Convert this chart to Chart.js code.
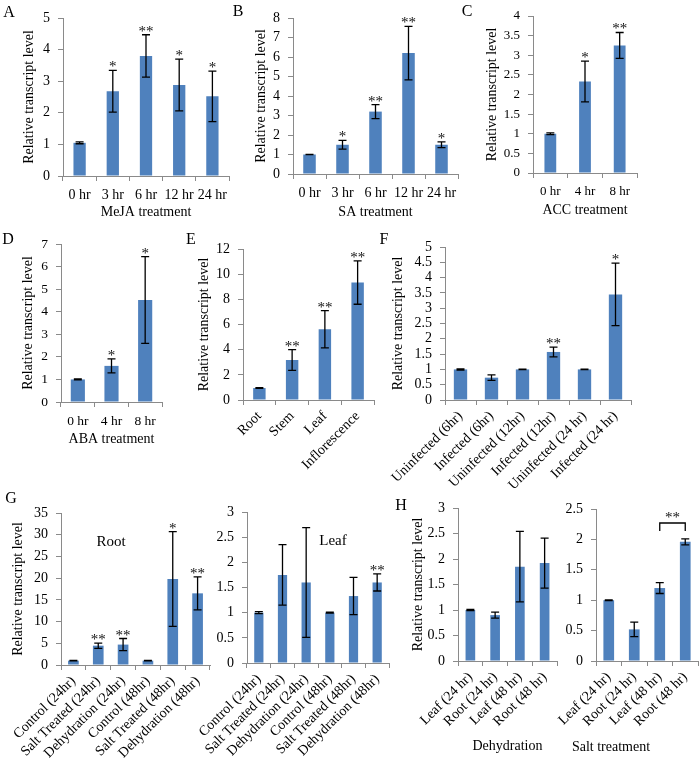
<!DOCTYPE html>
<html>
<head>
<meta charset="utf-8">
<script src="https://cdn.jsdelivr.net/npm/chart.js@4/dist/chart.umd.min.js"></script>
<style>
  html, body { margin: 0; padding: 0; background: #fff; }
  body { width: 700px; height: 764px; position: relative; overflow: hidden; }
  canvas { position: absolute; }
</style>
</head>
<body>
<script>
// ---------------- DATA ----------------
const hrLabels5 = ['0 hr', '3 hr', '6 hr', '12 hr', '24 hr'];
const hrLabels3 = ['0 hr', '4 hr', '8 hr'];

const mejaValues = [1.05, 2.68, 3.8, 2.88, 2.52];
const mejaErrors = [0.03, 0.66, 0.67, 0.82, 0.8];
const mejaStars  = ['', '*', '**', '*', '*'];

const saValues = [1.0, 1.5, 3.2, 6.2, 1.5];
const saErrors = [0.0, 0.22, 0.36, 1.37, 0.15];
const saStars  = ['', '*', '**', '**', '*'];

const accValues = [1.0, 2.33, 3.25];
const accErrors = [0.02, 0.52, 0.33];
const accStars  = ['', '*', '**'];

const abaValues = [1.0, 1.6, 4.52];
const abaErrors = [0.02, 0.31, 1.92];
const abaStars  = ['', '*', '*'];

const tissueLabels = ['Root', 'Stem', 'Leaf', 'Inflorescence'];
const tissueValues = [0.95, 3.18, 5.62, 9.33];
const tissueErrors = [0.03, 0.83, 1.48, 1.72];
const tissueStars  = ['', '**', '**', '**'];

const infLabels = ['Uninfected (6hr)', 'Infected (6hr)', 'Uninfected (12hr)', 'Infected (12hr)', 'Uninfected (24 hr)', 'Infected (24 hr)'];
const infValues = [1.0, 0.73, 1.0, 1.57, 1.0, 3.45];
const infErrors = [0.02, 0.09, 0.01, 0.16, 0.01, 1.02];
const infStars  = ['', '', '', '**', '', '*'];

const stressLabels = ['Control (24hr)', 'Salt Treated (24hr)', 'Dehydration (24hr)', 'Control (48hr)', 'Salt Treated (48hr)', 'Dehydration (48hr)'];
const rootValues = [1.0, 4.45, 4.7, 1.0, 19.8, 16.5];
const rootErrors = [0.05, 0.6, 1.4, 0.05, 10.9, 3.8];
const rootStars  = ['', '**', '**', '', '*', '**'];
const leafValues = [1.0, 1.75, 1.6, 1.0, 1.33, 1.6];
const leafErrors = [0.02, 0.6, 1.09, 0.01, 0.37, 0.17];
const leafStars  = ['', '', '', '', '', '**'];

const tissueTimeLabels = ['Leaf (24 hr)', 'Root (24 hr)', 'Leaf (48 hr)', 'Root (48 hr)'];
const dehydValues = [1.0, 0.9, 1.85, 1.92];
const dehydErrors = [0.01, 0.06, 0.69, 0.49];
const dehydStars  = ['', '', '', ''];
const saltValues = [1.0, 0.52, 1.2, 1.96];
const saltErrors = [0.005, 0.12, 0.09, 0.05];
const saltStars  = ['', '', '', ''];

const yTitle = 'Relative transcript level';

// ---------------- DRAWING ----------------
const FONT = '"Liberation Serif", "Times New Roman", serif';
const BAR = '#4F81BD';
const AXIS = '#8a8a8a';

const extras = {
  id: 'extras',
  afterDatasetsDraw(chart, args, o) {
    const ctx = chart.ctx;
    const meta = chart.getDatasetMeta(0);
    const ys = chart.scales.y;
    const vals = chart.data.datasets[0].data;
    ctx.save();
    ctx.strokeStyle = '#000';
    ctx.lineWidth = 1.3;
    ctx.fillStyle = '#111';
    ctx.textAlign = 'center';
    ctx.textBaseline = 'alphabetic';
    ctx.font = '15px ' + FONT;
    meta.data.forEach((bar, i) => {
      const x = bar.x, v = vals[i], e = o.errors[i];
      const yt = ys.getPixelForValue(v + e), yb = ys.getPixelForValue(v - e);
      ctx.beginPath();
      ctx.moveTo(x, yt); ctx.lineTo(x, yb);
      ctx.moveTo(x - 4, yt); ctx.lineTo(x + 4, yt);
      ctx.moveTo(x - 4, yb); ctx.lineTo(x + 4, yb);
      ctx.stroke();
      if (o.stars[i]) ctx.fillText(o.stars[i], x, yt + 1);
    });
    if (o.bracket) {
      const b = o.bracket;
      const x1 = meta.data[b.from].x, x2 = meta.data[b.to].x;
      const yTop = ys.getPixelForValue(b.value), yLow = ys.getPixelForValue(b.value - b.drop);
      ctx.beginPath();
      ctx.moveTo(x1, yLow); ctx.lineTo(x1, yTop); ctx.lineTo(x2, yTop); ctx.lineTo(x2, yLow);
      ctx.stroke();
      ctx.fillText(b.label, (x1 + x2) / 2, yTop - 1);
    }
    const [bx, by] = o.box;
    ctx.fillStyle = '#000';
    ctx.textBaseline = 'middle';
    (o.texts || []).forEach(t => {
      ctx.font = t.size + 'px ' + FONT;
      ctx.textAlign = t.align || 'center';
      ctx.fillText(t.text, t.x - bx, t.y - by);
    });
    ctx.restore();
  }
};

function makePanel(p) {
  const [bx, by, bw, bh] = p.box;
  const [pl, pt, pr, pb] = p.plot;
  const c = document.createElement('canvas');
  c.width = bw; c.height = bh;
  c.style.left = bx + 'px'; c.style.top = by + 'px';
  document.body.appendChild(c);
  const ts = 14, lh = ts * 1.2;
  const tickFont = { family: FONT, size: p.tick || 13 };
  new Chart(c, {
    type: 'bar',
    data: {
      labels: p.labels,
      datasets: [{ data: p.values, backgroundColor: BAR, borderWidth: 0,
                   barPercentage: p.barPct, categoryPercentage: 1 }]
    },
    options: {
      responsive: false, animation: false, devicePixelRatio: 1,
      layout: { padding: { left: 0, top: pt - by, right: bx + bw - pr, bottom: 0 } },
      plugins: {
        legend: { display: false }, tooltip: { enabled: false },
        extras: { errors: p.errors, stars: p.stars, texts: p.texts, box: p.box, bracket: p.bracket }
      },
      scales: {
        x: {
          grid: { display: true, drawOnChartArea: false, drawTicks: true, tickLength: 5, offset: true, color: AXIS },
          border: { display: true, color: AXIS, width: 1 },
          ticks: { font: tickFont, color: '#000', minRotation: p.rot || 0, maxRotation: p.rot || 0,
                   autoSkip: false, padding: p.rot ? 3 : 6 },
          title: p.xTitle ? { display: true, text: p.xTitle, color: '#000', font: { family: FONT, size: ts },
                   padding: { top: 0, bottom: by + bh - p.xTitleY - lh / 2 } } : { display: false },
          afterFit: s => { s.height = by + bh - pb; s.paddingLeft = 0; s.paddingRight = 0; s.paddingTop = 0; s.paddingBottom = 0; }
        },
        y: {
          min: 0, max: p.ymax,
          ticks: { stepSize: p.step, font: tickFont, color: '#000', padding: 8, autoSkip: false,
                   callback: v => String(Math.round(v * 100) / 100) },
          grid: { display: true, drawOnChartArea: false, drawTicks: true, tickLength: 5, color: AXIS },
          border: { display: true, color: AXIS, width: 1 },
          title: p.yTitleX ? { display: true, text: yTitle, color: '#000', font: { family: FONT, size: ts },
                   padding: { top: p.yTitleX - bx - lh / 2, bottom: 0 } } : { display: false },
          afterFit: s => { s.width = pl - bx; s.paddingLeft = 0; s.paddingRight = 0; s.paddingTop = 0; s.paddingBottom = 0; }
        }
      }
    },
    plugins: [extras]
  });
}

// A
makePanel({ box: [0, 0, 232, 222], plot: [63, 18, 229, 176], labels: hrLabels5, values: mejaValues,
  errors: mejaErrors, stars: mejaStars, ymax: 5, step: 1, barPct: 0.37, tick: 14,
  xTitle: 'MeJA treatment', xTitleY: 212, yTitleX: 29,
  texts: [{ text: 'A', x: 9, y: 13, size: 16 }] });
// B
makePanel({ box: [230, 0, 232, 222], plot: [293, 18, 458, 174], labels: hrLabels5, values: saValues,
  errors: saErrors, stars: saStars, ymax: 8, step: 1, barPct: 0.38, tick: 14,
  xTitle: 'SA treatment', xTitleY: 212, yTitleX: 261,
  texts: [{ text: 'B', x: 238, y: 12, size: 16 }] });
// C
makePanel({ box: [460, 0, 240, 222], plot: [533, 16, 637, 173], labels: hrLabels3, values: accValues,
  errors: accErrors, stars: accStars, ymax: 4, step: 0.5, barPct: 0.34, tick: 13,
  xTitle: 'ACC treatment', xTitleY: 210, yTitleX: 492,
  texts: [{ text: 'C', x: 467, y: 12, size: 16 }] });
// D
makePanel({ box: [0, 228, 200, 222], plot: [61, 244, 162, 402], labels: hrLabels3, values: abaValues,
  errors: abaErrors, stars: abaStars, ymax: 7, step: 1, barPct: 0.42, tick: 13.5,
  xTitle: 'ABA treatment', xTitleY: 439, yTitleX: 28,
  texts: [{ text: 'D', x: 8, y: 240, size: 16 }] });
// E
makePanel({ box: [185, 228, 195, 250], plot: [243, 249, 374, 400], labels: tissueLabels, values: tissueValues,
  errors: tissueErrors, stars: tissueStars, ymax: 12, step: 2, barPct: 0.38, tick: 14, rot: 45,
  yTitleX: 204,
  texts: [{ text: 'E', x: 191, y: 240, size: 16 }] });
// F
makePanel({ box: [378, 228, 262, 272], plot: [445, 247, 631, 400], labels: infLabels, values: infValues,
  errors: infErrors, stars: infStars, ymax: 5, step: 0.5, barPct: 0.43, tick: 14, rot: 45,
  yTitleX: 398,
  texts: [{ text: 'F', x: 384, y: 240, size: 16 }] });
// G root
makePanel({ box: [0, 488, 220, 276], plot: [61, 513, 210, 665], labels: stressLabels, values: rootValues,
  errors: rootErrors, stars: rootStars, ymax: 35, step: 5, barPct: 0.43, tick: 14, rot: 45,
  yTitleX: 18,
  texts: [{ text: 'G', x: 11, y: 499, size: 16 }, { text: 'Root', x: 111, y: 542, size: 15 }] });
// G leaf
makePanel({ box: [190, 488, 205, 276], plot: [247, 512, 389, 663], labels: stressLabels, values: leafValues,
  errors: leafErrors, stars: leafStars, ymax: 3, step: 0.5, barPct: 0.39, tick: 14, rot: 45,
  texts: [{ text: 'Leaf', x: 333, y: 541, size: 15 }] });
// H dehydration
makePanel({ box: [395, 488, 170, 276], plot: [458, 508, 557, 661], labels: tissueTimeLabels, values: dehydValues,
  errors: dehydErrors, stars: dehydStars, ymax: 3, step: 0.5, barPct: 0.39, tick: 14, rot: 45,
  xTitle: 'Dehydration', xTitleY: 746, yTitleX: 418,
  texts: [{ text: 'H', x: 401, y: 506, size: 16 }] });
// H salt
makePanel({ box: [555, 488, 145, 276], plot: [596, 509, 698, 661], labels: tissueTimeLabels, values: saltValues,
  errors: saltErrors, stars: saltStars, ymax: 2.5, step: 0.5, barPct: 0.42, tick: 14, rot: 45,
  bracket: { from: 2, to: 3, value: 2.27, drop: 0.13, label: '**' },
  texts: [{ text: 'Salt treatment', x: 611, y: 747, size: 14 }] });
</script>
</body>
</html>
